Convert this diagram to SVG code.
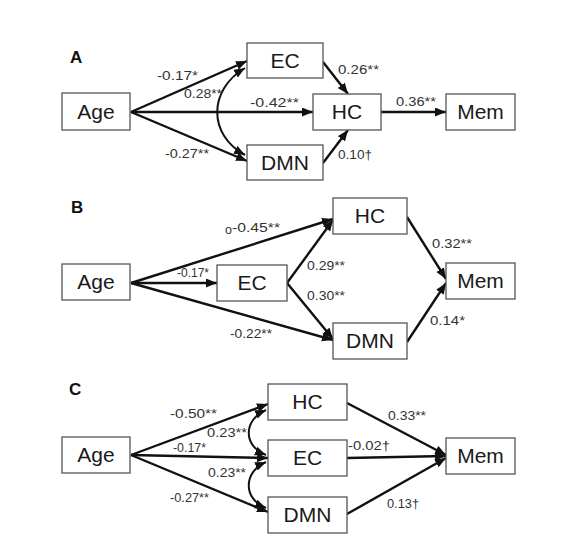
<svg xmlns="http://www.w3.org/2000/svg" width="584" height="550" viewBox="0 0 584 550">
<style>
.box{fill:#fff;stroke:#555;stroke-width:1.3}
.nt{font-family:"Liberation Sans",Arial,sans-serif;font-size:21px;fill:#1a1a1a;text-anchor:middle}
.lb{font-family:"Liberation Sans",Arial,sans-serif;font-size:12.5px;fill:#333}
.pl{font-family:"Liberation Sans",Arial,sans-serif;font-size:17px;font-weight:bold;fill:#111}
.ln{fill:none;stroke:#111;stroke-width:2.4;marker-end:url(#ah)}
.cv{fill:none;stroke:#111;stroke-width:2;marker-end:url(#ah);marker-start:url(#ah)}
</style>
<defs>
<marker id="ah" markerUnits="userSpaceOnUse" markerWidth="12" markerHeight="10" refX="11" refY="4.5" orient="auto-start-reverse">
<path d="M0,0 L11,4.5 L0,9 z" fill="#111"/>
</marker>
</defs>
<rect width="584" height="550" fill="#fff"/>

<text class="pl" x="70" y="63">A</text>
<text class="pl" x="71" y="213">B</text>
<text class="pl" x="69" y="395">C</text>

<g id="connectors">
<!-- Panel A -->
<path class="ln" d="M131,112 L247,61"/>
<path class="ln" d="M131,112 L313,112"/>
<path class="ln" d="M131,112 L247,161"/>
<path class="cv" d="M245,68 C208,90 208,135 245,155"/>
<path class="ln" d="M323,62 L348,94"/>
<path class="ln" d="M323,163 L348,130"/>
<path class="ln" d="M381,112 L446,112"/>
<!-- Panel B -->
<path class="ln" d="M131,283 L333,219"/>
<path class="ln" d="M131,283 L217,283"/>
<path class="ln" d="M131,283 L333,340"/>
<path class="ln" d="M287,283 L333,220"/>
<path class="ln" d="M287,283 L333,339"/>
<path class="ln" d="M407,217 L446,279"/>
<path class="ln" d="M407,342 L446,283"/>
<!-- Panel C -->
<path class="ln" d="M131,455 L268,404"/>
<path class="ln" d="M131,455 L268,458"/>
<path class="ln" d="M131,455 L268,512"/>
<path class="cv" d="M266,410 C243,420 243,446 266,455"/>
<path class="cv" d="M266,462 C243,472 243,499 266,508"/>
<path class="ln" d="M347,403 L446,455"/>
<path class="ln" d="M347,458 L446,456"/>
<path class="ln" d="M347,514 L446,458"/>
</g>

<g id="labels">
<text class="lb" x="157" y="80" textLength="41" lengthAdjust="spacingAndGlyphs">-0.17*</text>
<text class="lb" x="184" y="98" textLength="38" lengthAdjust="spacingAndGlyphs">0.28**</text>
<text class="lb" x="250" y="107" textLength="49" lengthAdjust="spacingAndGlyphs">-0.42**</text>
<text class="lb" x="165" y="158" textLength="44" lengthAdjust="spacingAndGlyphs">-0.27**</text>
<text class="lb" x="338" y="74" textLength="41" lengthAdjust="spacingAndGlyphs">0.26**</text>
<text class="lb" x="338" y="159" textLength="34" lengthAdjust="spacingAndGlyphs">0.10†</text>
<text class="lb" x="396" y="106" textLength="40" lengthAdjust="spacingAndGlyphs">0.36**</text>

<text class="lb" x="225" y="234" font-size="7" fill="#777">o</text>
<text class="lb" x="232" y="232" textLength="48" lengthAdjust="spacingAndGlyphs">-0.45**</text>
<text class="lb" x="177" y="277" textLength="32" lengthAdjust="spacingAndGlyphs">-0.17*</text>
<text class="lb" x="230" y="338" textLength="42" lengthAdjust="spacingAndGlyphs">-0.22**</text>
<text class="lb" x="307" y="270" textLength="38" lengthAdjust="spacingAndGlyphs">0.29**</text>
<text class="lb" x="307" y="300" textLength="38" lengthAdjust="spacingAndGlyphs">0.30**</text>
<text class="lb" x="432" y="248" textLength="40" lengthAdjust="spacingAndGlyphs">0.32**</text>
<text class="lb" x="430" y="325" textLength="35" lengthAdjust="spacingAndGlyphs">0.14*</text>

<text class="lb" x="170" y="418" textLength="47" lengthAdjust="spacingAndGlyphs">-0.50**</text>
<text class="lb" x="207" y="437" textLength="40" lengthAdjust="spacingAndGlyphs">0.23**</text>
<text class="lb" x="173" y="452" textLength="33" lengthAdjust="spacingAndGlyphs">-0.17*</text>
<text class="lb" x="208" y="477" textLength="38" lengthAdjust="spacingAndGlyphs">0.23**</text>
<text class="lb" x="170" y="502" textLength="39" lengthAdjust="spacingAndGlyphs">-0.27**</text>
<text class="lb" x="388" y="420" textLength="38" lengthAdjust="spacingAndGlyphs">0.33**</text>
<text class="lb" x="348" y="450" textLength="42" lengthAdjust="spacingAndGlyphs">-0.02†</text>
<text class="lb" x="387" y="508" textLength="32" lengthAdjust="spacingAndGlyphs">0.13†</text>
</g>

<g id="A-Age"><rect class="box" x="62" y="93" width="68" height="37"/><text class="nt" x="96" y="119">Age</text></g>
<g id="A-EC"><rect class="box" x="247" y="43" width="76" height="35"/><text class="nt" x="285" y="68">EC</text></g>
<g id="A-DMN"><rect class="box" x="247" y="145" width="76" height="35"/><text class="nt" x="285" y="170">DMN</text></g>
<g id="A-HC"><rect class="box" x="313" y="94" width="68" height="36"/><text class="nt" x="347" y="119">HC</text></g>
<g id="A-Mem"><rect class="box" x="446" y="94" width="69" height="36"/><text class="nt" x="480.5" y="119">Mem</text></g>

<g id="B-Age"><rect class="box" x="62" y="264" width="68" height="36"/><text class="nt" x="96" y="289">Age</text></g>
<g id="B-EC"><rect class="box" x="217" y="265" width="70" height="36"/><text class="nt" x="252" y="290">EC</text></g>
<g id="B-HC"><rect class="box" x="333" y="198" width="74" height="36"/><text class="nt" x="370" y="223">HC</text></g>
<g id="B-DMN"><rect class="box" x="333" y="323" width="74" height="36"/><text class="nt" x="370" y="348">DMN</text></g>
<g id="B-Mem"><rect class="box" x="446" y="263" width="69" height="36"/><text class="nt" x="480.5" y="288">Mem</text></g>

<g id="C-Age"><rect class="box" x="62" y="437" width="68" height="36"/><text class="nt" x="96" y="462">Age</text></g>
<g id="C-HC"><rect class="box" x="268" y="384" width="79" height="36"/><text class="nt" x="307.5" y="409">HC</text></g>
<g id="C-EC"><rect class="box" x="268" y="440" width="79" height="36"/><text class="nt" x="307.5" y="465">EC</text></g>
<g id="C-DMN"><rect class="box" x="268" y="497" width="79" height="36"/><text class="nt" x="307.5" y="522">DMN</text></g>
<g id="C-Mem"><rect class="box" x="446" y="438" width="69" height="36"/><text class="nt" x="480.5" y="463">Mem</text></g>
</svg>
